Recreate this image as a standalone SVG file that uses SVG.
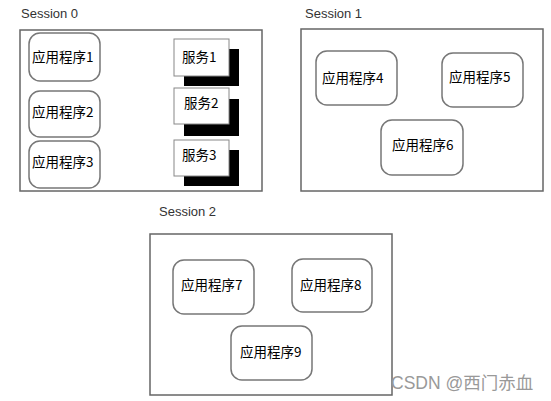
<svg xmlns="http://www.w3.org/2000/svg" width="551" height="401" viewBox="0 0 551 401">
<style>
.sess{fill:#fff;stroke:#666;stroke-width:1.5}
.app{fill:#fff;stroke:#777;stroke-width:1.5}
.svc{fill:#fff;stroke:#888;stroke-width:1}
.sh{fill:#000}
.lbl{font-family:"Liberation Sans",Arial,sans-serif;font-size:13px;fill:#333}
.t{font-family:"Noto Sans CJK SC","Liberation Sans",sans-serif;font-size:13.5px;fill:#000}
.wm{font-family:"Liberation Sans","Noto Sans CJK SC",sans-serif;font-size:17.5px;fill:#999}
</style>
<rect width="551" height="401" fill="#fff"/>
<g id="session0">
<text class="lbl" x="21" y="18">Session 0</text>
<rect class="sess" x="20" y="30" width="242" height="161"/>
</g>
<g id="session1">
<text class="lbl" x="305" y="18">Session 1</text>
<rect class="sess" x="301" y="29" width="242" height="162"/>
</g>
<g id="session2">
<text class="lbl" x="159" y="216">Session 2</text>
<rect class="sess" x="150" y="234" width="242" height="161"/>
</g>
<g id="app1"><rect class="app" x="29" y="33" width="71" height="48" rx="11"/><text class="t" x="32" y="62">应用程序1</text></g>
<g id="app2"><rect class="app" x="29" y="91" width="71" height="46" rx="11"/><text class="t" x="32" y="117">应用程序2</text></g>
<g id="app3"><rect class="app" x="29" y="141" width="71" height="47" rx="11"/><text class="t" x="32" y="167">应用程序3</text></g>
<g id="svc1"><rect class="sh" x="184" y="49" width="55" height="37"/><rect class="svc" x="174" y="39" width="55" height="37"/><text class="t" x="182" y="62">服务1</text></g>
<g id="svc2"><rect class="sh" x="184" y="99" width="55" height="37"/><rect class="svc" x="174" y="88" width="55" height="36"/><text class="t" x="184" y="108">服务2</text></g>
<g id="svc3"><rect class="sh" x="184" y="150" width="55" height="36"/><rect class="svc" x="174" y="140" width="55" height="36"/><text class="t" x="182" y="160">服务3</text></g>
<g id="app4"><rect class="app" x="316" y="51" width="81" height="54" rx="11"/><text class="t" x="322" y="83">应用程序4</text></g>
<g id="app5"><rect class="app" x="442" y="53" width="81" height="54" rx="11"/><text class="t" x="449" y="82">应用程序5</text></g>
<g id="app6"><rect class="app" x="381" y="120" width="82" height="55" rx="11"/><text class="t" x="392" y="150">应用程序6</text></g>
<g id="app7"><rect class="app" x="173" y="260" width="81" height="54" rx="11"/><text class="t" x="181" y="290">应用程序7</text></g>
<g id="app8"><rect class="app" x="292" y="259" width="80" height="53" rx="11"/><text class="t" x="300" y="290">应用程序8</text></g>
<g id="app9"><rect class="app" x="231" y="326" width="81" height="54" rx="11"/><text class="t" x="240" y="357">应用程序9</text></g>
<g id="connectors"></g>
<text class="wm" x="391" y="389">CSDN @西门赤血</text>
</svg>
